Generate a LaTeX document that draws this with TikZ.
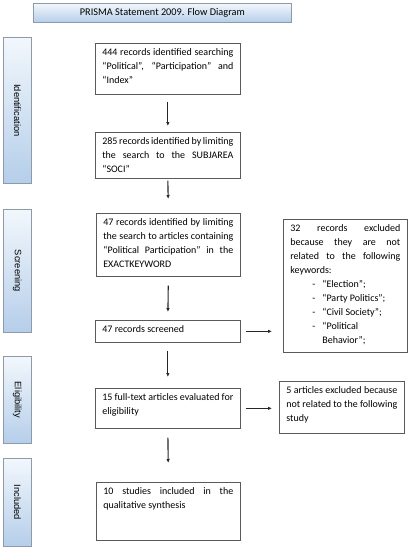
\documentclass[tikz,border=0pt]{standalone}
\usepackage{fontspec}
\usepackage{graphicx}
\setmainfont{Carlito}
\newfontfamily\sidefont{Liberation Sans}
\usetikzlibrary{arrows.meta}
\definecolor{gtop}{HTML}{F2F7FC}
\definecolor{gbot}{HTML}{B5CEEA}
\definecolor{sideline}{HTML}{8E9AA8}
\definecolor{boxline}{HTML}{5A5A5A}
\newcommand{\boxtxt}[3]{\parbox[c][#2][t]{#1}{\rule{0pt}{12.5pt}#3}}
\tikzset{
  flowbox/.style={draw=boxline, line width=0.7pt, anchor=north west, inner xsep=7pt, inner ysep=0pt,
    font=\fontsize{10}{14}\selectfont, fill=white},
  sidebox/.style={draw=sideline, line width=0.7pt, anchor=north west, top color=gtop, bottom color=gbot,
    minimum width=28pt, inner sep=0pt, font=\sidefont\fontsize{9.3}{11}\selectfont},
  titlebox/.style={draw=sideline, line width=0.7pt, anchor=north west, top color=gtop, bottom color=gbot,
    minimum width=258pt, minimum height=19pt, inner sep=0pt, font=\fontsize{10.3}{12}\selectfont},
  arr/.style={draw=black!85, line width=1.1pt, -{Latex[length=4pt,width=3.5pt]}}
}
\begin{document}
\begin{tikzpicture}[x=1pt,y=-1pt]
\useasboundingbox (0,0) rectangle (411,550);
% title
\node[titlebox] (title) at (33,3) {PRISMA Statement 2009. Flow Diagram};
% side labels
\node[sidebox, minimum height=146pt] (sid) at (3,37) {\rotatebox{-90}{Identification}};
\node[sidebox, minimum height=123pt] (ssc) at (3,209) {\rotatebox{-90}{Screening}};
\node[sidebox, minimum height=87pt] (sel) at (3,356) {\rotatebox{-90}{Eligibility}};
\node[sidebox, minimum height=88pt] (sin) at (3,458) {\rotatebox{-90}{Included}};
% main boxes
\node[flowbox] (b1) at (95,43) {\boxtxt{131pt}{51pt}{444 records identified searching\linebreak “Political”, “Participation” and\linebreak “Index”}};
\node[flowbox] (b2) at (95,132) {\boxtxt{131pt}{46pt}{285 records identified by limiting\linebreak the search to the SUBJAREA\linebreak “SOCI”}};
\node[flowbox] (b3) at (96,213) {\boxtxt{130pt}{63pt}{47 records identified by limiting\linebreak the search to articles containing\linebreak “Political Participation” in the\linebreak EXACTKEYWORD}};
\node[flowbox] (b4) at (95,320) {\boxtxt{131pt}{22pt}{47 records screened}};
\node[flowbox] (b5) at (95,388) {\boxtxt{131pt}{40pt}{15 full-text articles evaluated for\linebreak eligibility}};
\node[flowbox] (b6) at (96,482) {\boxtxt{130pt}{58pt}{10 studies included in the\linebreak qualitative synthesis}};
% exclusion boxes
\node[flowbox] (e1) at (283,219) {\boxtxt{110pt}{133pt}{32 records excluded\linebreak because they are not\linebreak related to the following\linebreak keywords:\\
\hspace*{22pt}\makebox[10pt][l]{-}“Election”;\\
\hspace*{22pt}\makebox[10pt][l]{-}“Party Politics”;\\
\hspace*{22pt}\makebox[10pt][l]{-}“Civil Society”;\\
\hspace*{22pt}\makebox[10pt][l]{-}“Political\\
\hspace*{32pt}Behavior”;}};
\node[flowbox] (e2) at (279,381) {\boxtxt{111pt}{52pt}{5 articles excluded because\linebreak not related to the following\linebreak study}};
% arrows
\draw[arr, shorten <=7pt, shorten >=6pt] (b1.south) -- (b2.north);
\draw[arr, shorten <=2pt, shorten >=14pt] (b2.south) -- (b3.north);
\draw[arr, shorten <=9pt, shorten >=8pt] (b3.south) -- (b4.north);
\draw[arr, shorten <=8pt, shorten >=11pt] (b4.south) -- (b5.north);
\draw[arr, shorten <=9pt, shorten >=19pt] (b5.south) -- (b6.north);
\draw[arr, shorten <=5pt, shorten >=11pt] (b4.east) -- (b4.east -| e1.west);
\draw[arr, shorten <=5pt, shorten >=7pt] (b5.east) -- (b5.east -| e2.west);
\end{tikzpicture}
\end{document}
